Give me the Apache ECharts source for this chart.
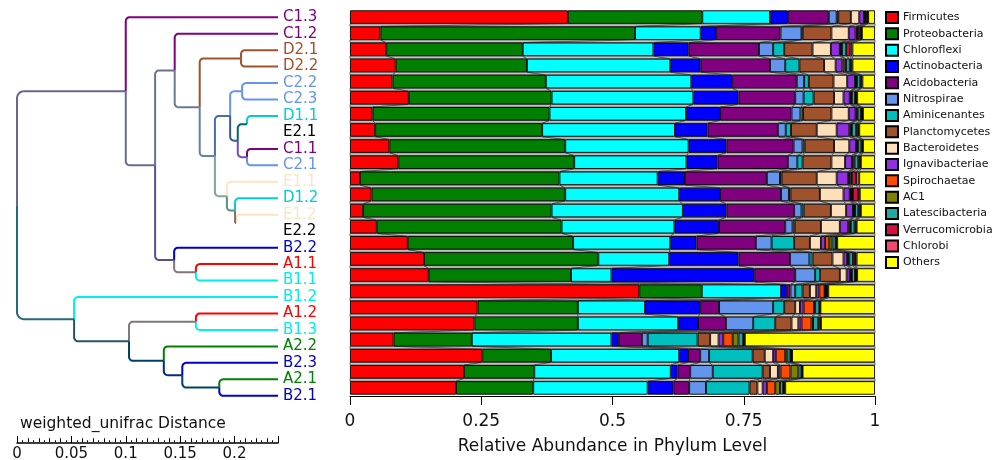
<!DOCTYPE html>
<html>
<head>
<meta charset="utf-8">
<script src="https://cdn.jsdelivr.net/npm/echarts@6/dist/echarts.min.js"></script>
<style>
html,body{margin:0;padding:0;background:#fff;}
#chart{width:1003px;height:460px;}
</style>
</head>
<body>
<div id="chart"></div>
<script>
// Samples, top to bottom (dendrogram leaf order)
const samples = ['C1.3','C1.2','D2.1','D2.2','C2.2','C2.3','D1.1','E2.1','C1.1','C2.1','E1.1','D1.2',
                 'E1.2','E2.2','B2.2','A1.1','B1.1','B1.2','A1.2','B1.3','A2.2','B2.3','A2.1','B2.1'];

const phyla = ['Firmicutes','Proteobacteria','Chloroflexi','Actinobacteria','Acidobacteria','Nitrospirae',
               'Aminicenantes','Planctomycetes','Bacteroidetes','Ignavibacteriae','Spirochaetae','AC1',
               'Latescibacteria','Verrucomicrobia','Chlorobi','Others'];

// Relative abundance of each phylum per sample (same order as samples)
const firmicutes      = [.415,.058,.069,.087,.081,.112,.043,.048,.075,.092,.019,.041,.025,.051,.110,.141,.150,.551,.243,.237,.083,.252,.217,.202];
const proteobacteria  = [.256,.485,.260,.250,.292,.272,.337,.318,.335,.335,.380,.369,.359,.352,.315,.332,.271,.119,.191,.197,.149,.131,.134,.147];
const chloroflexi     = [.129,.125,.249,.273,.277,.270,.260,.253,.235,.214,.187,.217,.250,.215,.185,.135,.077,.151,.128,.191,.266,.244,.260,.218];
const actinobacteria  = [.034,.029,.067,.058,.078,.086,.065,.062,.072,.059,.052,.078,.083,.085,.050,.132,.272,.011,.105,.038,.014,.017,.013,.049];
const acidobacteria   = [.078,.123,.134,.132,.123,.108,.136,.134,.128,.134,.156,.116,.129,.126,.113,.098,.078,.007,.036,.053,.044,.023,.024,.030];
const nitrospirae     = [.015,.040,.027,.029,.014,.016,.017,.015,.017,.018,.025,.015,.014,.014,.030,.037,.038,.009,.103,.052,.011,.017,.043,.032];
const aminicenantes   = [.003,.002,.021,.027,.009,.019,.005,.010,.004,.010,.003,.003,.004,.004,.043,.006,.009,.014,.021,.042,.095,.083,.095,.083];
const planctomycetes  = [.024,.055,.054,.047,.047,.039,.054,.049,.056,.055,.067,.056,.052,.050,.030,.038,.038,.014,.021,.031,.024,.023,.014,.015];
const bacteroidetes   = [.016,.033,.035,.022,.026,.018,.033,.038,.029,.026,.038,.045,.029,.036,.021,.021,.013,.012,.009,.013,.016,.016,.015,.010];
const ignavibacteriae = [.009,.013,.017,.013,.015,.012,.013,.024,.013,.013,.022,.012,.013,.016,.008,.007,.006,.006,.007,.006,.009,.005,.005,.008];
const spirochaetae    = [.002,.003,.002,.004,.002,.002,.002,.003,.002,.003,.002,.002,.002,.003,.008,.002,.002,.010,.020,.019,.018,.018,.019,.016];
const ac1             = [.001,.002,.002,.003,.002,.002,.002,.002,.002,.002,.002,.002,.002,.002,.006,.002,.002,.001,.002,.003,.011,.004,.015,.009];
const latescibacteria = [.002,.003,.008,.007,.006,.006,.006,.008,.006,.007,.003,.002,.006,.007,.006,.007,.006,.002,.008,.010,.009,.006,.006,.006];
const verrucomicrobia = [.002,.003,.008,.003,.002,.002,.002,.004,.002,.003,.008,.010,.003,.002,.001,.004,.002,.002,.001,.002,.001,.001,.001,.002];
const chlorobi        = [.001,.001,.004,.002,.002,.002,.002,.002,.001,.002,.006,.003,.002,.002,.002,.003,.002,.002,.001,.003,.002,.002,.001,.002];
const others          = [.013,.025,.043,.043,.024,.034,.023,.030,.023,.027,.030,.029,.027,.035,.072,.035,.034,.089,.104,.103,.248,.158,.138,.171];

const abundance = [firmicutes, proteobacteria, chloroflexi, actinobacteria, acidobacteria, nitrospirae,
                   aminicenantes, planctomycetes, bacteroidetes, ignavibacteriae, spirochaetae, ac1,
                   latescibacteria, verrucomicrobia, chlorobi, others];

// Sample groups (prefix of the sample name)
const groups = ['A1','A2','B1','B2','C1','C2','D1','D2','E1','E2'];

// Clustering: [node, left child, right child, distance of the node from the root]
const merges = [
  ['d2',   'D2.1', 'D2.2', 0.206],
  ['c2',   'C2.2', 'C2.3', 0.207],
  ['n10',  'D1.1', 'E2.1', 0.2115],
  ['n11',  'C1.1', 'C2.1', 0.2115],
  ['n9',   'n10',  'n11',  0.203],
  ['n6',   'c2',   'n9',   0.196],
  ['n12',  'E1.2', 'E2.2', 0.2015],
  ['n8',   'D1.2', 'n12',  0.2005],
  ['n7',   'E1.1', 'n8',   0.193],
  ['n5',   'n6',   'n7',   0.182],
  ['n4',   'd2',   'n5',   0.168],
  ['n3',   'C1.2', 'n4',   0.145],
  ['ab1',  'A1.1', 'B1.1', 0.1645],
  ['nb',   'B2.2', 'ab1',  0.1445],
  ['n2',   'n3',   'nb',   0.127],
  ['n1',   'C1.3', 'n2',   0.100],
  ['ab2',  'A1.2', 'B1.3', 0.1645],
  ['ab3',  'A2.1', 'B2.1', 0.186],
  ['ne',   'B2.3', 'ab3',  0.152],
  ['nd',   'A2.2', 'ne',   0.135],
  ['nc',   'ab2',  'nd',   0.103],
  ['na',   'B1.2', 'nc',   0.0525],
  ['root', 'n1',   'na',   0]
];
const leafDistance = 0.24;
const distanceMax = 0.24;
const distanceLabelStep = 0.05;

// ---- styling ----
const phylumColors = ['#ff0000','#007f00','#00ffff','#0000ff','#800080','#6495ed','#00bfbf','#a0522d',
                      '#ffdfb8','#9030e0','#ff4a00','#808000','#20aaa2','#d4103c','#f04870','#ffff00'];
const groupColors  = ['#ff0000','#008000','#00eeee','#0000cd','#800080','#6495ed','#00ced1','#a0522d',
                      '#ffe4c4','#000000'];
const FONT = 'DejaVu Sans';
const BAR_W = 13.5;

function groupColor(name) { return groupColors[groups.indexOf(name.slice(0, 2))]; }
function hexRgb(h) { return [1,3,5].map(i => parseInt(h.slice(i, i + 2), 16)); }

// Dendrogram geometry from the merge table
const nodes = {};
samples.forEach((s, i) => { nodes[s] = { d: leafDistance, y: i, leaves: [s], leaf: true }; });
merges.forEach(([id, l, r, d]) => {
  const a = nodes[l], b = nodes[r];
  nodes[id] = { d: d, y: (a.y + b.y) / 2, leaves: a.leaves.concat(b.leaves), kids: [l, r] };
});
// a branch takes the mean colour of the samples below it
function nodeColor(n) {
  const sum = [0, 0, 0];
  n.leaves.forEach(s => hexRgb(groupColor(s)).forEach((v, k) => { sum[k] += v; }));
  return 'rgb(' + sum.map(v => Math.round(v / n.leaves.length)).join(',') + ')';
}
const edges = [];
const edgeColors = [];
merges.forEach(([id]) => {
  const p = nodes[id];
  p.kids.forEach(k => {
    const c = nodes[k];
    // black leaves carry no branch line
    if (c.leaf && groupColor(k) === '#000000') return;
    edges.push([p.d, p.y, c.d, c.y, edgeColors.length]);
    edgeColors.push(nodeColor(c));
  });
});

// cumulative bounds of each segment per sample
const cum = samples.map((s, i) => {
  const c = [0];
  abundance.forEach(arr => c.push(c[c.length - 1] + arr[i]));
  return c;
});
const linkData = [];
for (let i = 0; i < samples.length - 1; i++) {
  for (let k = 0; k < phyla.length; k++) linkData.push([i, k]);
}

const chart = echarts.init(document.getElementById('chart'), null, { renderer: 'canvas' });

const barSeries = phyla.map((name, k) => ({
  name: name,
  type: 'bar',
  stack: 'total',
  xAxisIndex: 0,
  yAxisIndex: 0,
  barWidth: BAR_W,
  data: abundance[k],
  itemStyle: { color: phylumColors[k], borderColor: '#000', borderWidth: 0.9 },
  emphasis: { disabled: true },
  z: 3
}));

const fmt = v => String(+v.toFixed(2));

const option = {
  animation: false,
  backgroundColor: '#fff',
  textStyle: { fontFamily: FONT },
  title: {
    text: 'weighted_unifrac Distance',
    left: 15, top: 411,
    textStyle: { fontFamily: FONT, fontSize: 15.5, fontWeight: 'normal', color: '#111' }
  },
  legend: {
    data: phyla,
    orient: 'vertical',
    left: 885, top: 11, padding: 0,
    itemWidth: 12, itemHeight: 11, itemGap: 3.33,
    icon: 'rect',
    selectedMode: false,
    textStyle: { fontFamily: FONT, fontSize: 11, color: '#111' }
  },
  grid: [
    { left: 350, width: 525, top: 9, height: 395 },
    { left: 17, width: 261, top: 9, height: 395 },
    { left: 17, width: 261, top: 442, height: 1 },
    { left: 17, width: 261, top: 442, height: 1 }
  ],
  xAxis: [
    {
      gridIndex: 0, type: 'value', min: 0, max: 1, interval: 0.25,
      axisLine: { show: true, lineStyle: { color: '#000', width: 1 } },
      axisTick: { show: true, length: 9, lineStyle: { color: '#000' } },
      splitLine: { show: false },
      axisLabel: { fontFamily: FONT, fontSize: 17, color: '#111', margin: 17, formatter: fmt },
      name: 'Relative Abundance in Phylum Level',
      nameLocation: 'middle', nameGap: 42,
      nameTextStyle: { fontFamily: FONT, fontSize: 17, color: '#111' }
    },
    { gridIndex: 1, type: 'value', min: 0, max: distanceMax, show: false },
    {
      // scale bar: fine ticks
      gridIndex: 2, type: 'value', min: 0, max: distanceMax, interval: 0.01,
      axisLine: { show: true, onZero: false, lineStyle: { color: '#000', width: 1.5 } },
      axisTick: { show: true, inside: true, length: 4, lineStyle: { color: '#000' } },
      minorTick: { show: true, splitNumber: 2, length: 2, lineStyle: { color: '#000' } },
      splitLine: { show: false },
      axisLabel: {
        fontFamily: FONT, fontSize: 15, color: '#111', margin: 4, interval: 0,
        showMaxLabel: false,
        formatter: v => (Math.abs(v / distanceLabelStep - Math.round(v / distanceLabelStep)) < 1e-6 ? fmt(v) : '')
      }
    },
    {
      // scale bar: major ticks
      gridIndex: 3, type: 'value', min: 0, max: distanceMax, interval: distanceLabelStep,
      axisLine: { show: false, onZero: false },
      axisTick: { show: true, inside: true, length: 7, lineStyle: { color: '#000' } },
      splitLine: { show: false },
      axisLabel: { show: false }
    }
  ],
  yAxis: [
    { gridIndex: 0, type: 'category', data: samples, inverse: true, show: false },
    {
      gridIndex: 1, type: 'category', data: samples, inverse: true, position: 'right',
      axisLine: { show: false }, axisTick: { show: false },
      axisLabel: { fontFamily: FONT, fontSize: 15, margin: 5, interval: 0,
                   color: (v) => groupColor(v) }
    },
    { gridIndex: 1, type: 'value', min: -0.5, max: samples.length - 0.5, inverse: true, show: false },
    { gridIndex: 2, type: 'value', show: false },
    { gridIndex: 3, type: 'value', show: false }
  ],
  series: [
    {
      // bands linking each segment to the same segment of the next bar
      type: 'custom',
      xAxisIndex: 0, yAxisIndex: 0,
      data: linkData,
      silent: true,
      z: 1,
      renderItem: (params, api) => {
        const i = api.value(0), k = api.value(1);
        const h = BAR_W / 2;
        const a0 = api.coord([cum[i][k], i]), a1 = api.coord([cum[i][k + 1], i]);
        const b0 = api.coord([cum[i + 1][k], i + 1]), b1 = api.coord([cum[i + 1][k + 1], i + 1]);
        return {
          type: 'polygon',
          shape: { points: [[a0[0], a0[1] + h], [a1[0], a1[1] + h], [b1[0], b1[1] - h], [b0[0], b0[1] - h]] },
          style: { fill: '#c4c4c4', stroke: '#3c3c3c', lineWidth: 0.7 }
        };
      }
    },
    ...barSeries,
    {
      // dendrogram branches: vertical from the parent, rounded corner, horizontal to the child
      type: 'custom',
      xAxisIndex: 1, yAxisIndex: 2,
      data: edges,
      encode: { x: [0, 2], y: [1, 3] },
      silent: true,
      renderItem: (params, api) => {
        const p = api.coord([api.value(0), api.value(1)]);
        const c = api.coord([api.value(2), api.value(3)]);
        const dy = c[1] - p[1];
        const s = dy >= 0 ? 1 : -1;
        const r = Math.min(api.value(0) === 0 ? 7 : 4, Math.abs(dy), c[0] - p[0]);
        const cx = p[0] + r, cy = c[1] - s * r;
        const pts = [[p[0], p[1]]];
        for (let t = 0; t <= 8; t++) {
          const ang = (Math.PI / 2) * (t / 8);
          pts.push([cx - r * Math.cos(ang), cy + s * r * Math.sin(ang)]);
        }
        pts.push([c[0], c[1]]);
        return {
          type: 'polyline',
          shape: { points: pts },
          style: { stroke: edgeColors[api.value(4)], lineWidth: 2, fill: null }
        };
      }
    }
  ]
};
chart.setOption(option);
</script>
</body>
</html>
